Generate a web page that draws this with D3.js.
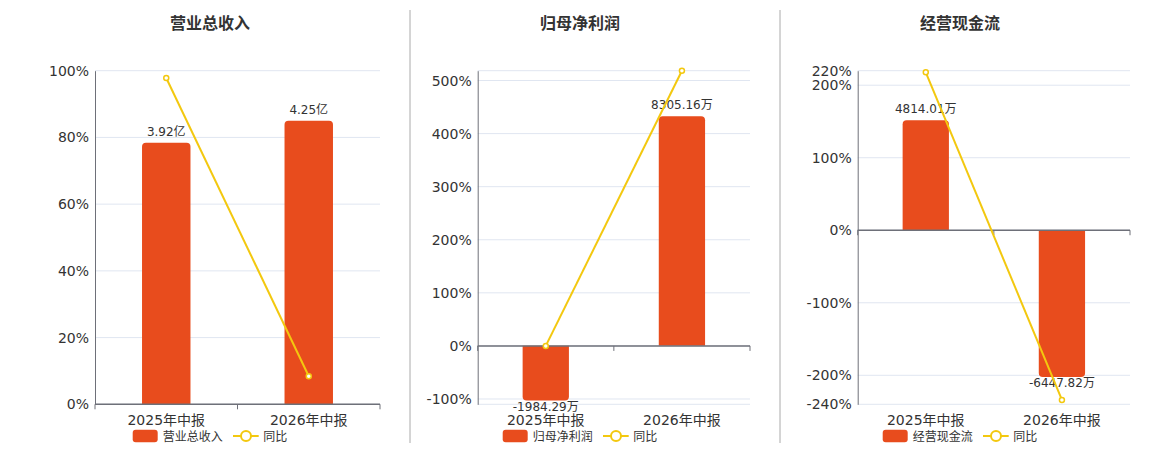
<!DOCTYPE html>
<html>
<head>
<meta charset="utf-8">
<script src="https://cdn.jsdelivr.net/npm/d3@7"></script>
<style>
    body { margin: 0; background: #fff; }
    svg { display: block; font-family: "DejaVu Sans", "Noto Sans CJK SC", sans-serif; }
</style>
</head>
<body>
<div id="graf"></div>
<script>
// Datos
const categorias = ["2025年中报", "2026年中报"];
const titulos = ["营业总收入", "归母净利润", "经营现金流"];
const unidades = ["亿", "万", "万"];

const ingresos = [3.92, 4.25];
const ingresosYoy = [97.8, 8.42];
const utilidad = [-1984.29, 8305.16];
const utilidadYoy = [0, 518.5];
const flujo = [4814.01, -6447.82];
const flujoYoy = [217.7, -233.9];

const ticksIngresos = [0, 20, 40, 60, 80, 100];
const ticksUtilidad = [-100, 0, 100, 200, 300, 400, 500];
const ticksFlujo = [-240, -200, -100, 0, 100, 200, 220];

// Configuración de cada panel
const paneles = [
    { barras: ingresos, yoy: ingresosYoy, ticks: ticksIngresos, pct: [0, 100], dom: [0, 5], left: 95, width: 285, center: 210 },
    { barras: utilidad, yoy: utilidadYoy, ticks: ticksUtilidad, pct: [-110, 518.5], dom: [-2120, 9950], left: 477.7, width: 272.3, center: 580 },
    { barras: flujo, yoy: flujoYoy, ticks: ticksFlujo, pct: [-240, 220], dom: [-7645, 6987], left: 857.7, width: 272.3, center: 960 },
];

const anchoTotal = 1160, altoTotal = 450;
const plotTop = 70.7, plotBottom = 404.3;
const rojo = "#e84c1d", amarillo = "#f3c80f", gris = "#6e7079", rejilla = "#e0e6f1", texto = "#333";

const svg = d3.select("#graf").append("svg").attr("width", anchoTotal).attr("height", altoTotal);

// separadores
[410, 780].forEach((x) => {
    svg.append("line").attr("x1", x).attr("x2", x).attr("y1", 10).attr("y2", 443)
        .attr("stroke", "#aaa").attr("stroke-width", 1);
});

function barPath(x0, w, yBase, yEnd, r) {
    const p = d3.path();
    const dir = yEnd < yBase ? 1 : -1; // 1 = hacia arriba
    r = Math.min(r, Math.abs(yBase - yEnd), w / 2);
    p.moveTo(x0, yBase);
    p.lineTo(x0, yEnd + dir * r);
    p.quadraticCurveTo(x0, yEnd, x0 + r, yEnd);
    p.lineTo(x0 + w - r, yEnd);
    p.quadraticCurveTo(x0 + w, yEnd, x0 + w, yEnd + dir * r);
    p.lineTo(x0 + w, yBase);
    p.closePath();
    return p.toString();
}

paneles.forEach((cfg, i) => {
    const g = svg.append("g");

    // Escaladores
    const x = d3.scaleBand().domain(categorias).range([cfg.left, cfg.left + cfg.width]);
    const yPct = d3.scaleLinear().domain(cfg.pct).range([plotBottom, plotTop]);
    const yBar = d3.scaleLinear().domain(cfg.dom).range([plotBottom, plotTop]);
    const centro = (d) => x(d) + x.bandwidth() / 2;

    // Titulo
    g.append("text").attr("x", cfg.center).attr("y", 29).attr("text-anchor", "middle")
        .attr("font-size", 16).attr("font-weight", "bold").attr("fill", texto).text(titulos[i]);

    // Rejilla
    const lineas = Array.from(new Set([...cfg.ticks, ...cfg.pct]));
    g.append("g").selectAll("line").data(lineas).join("line")
        .attr("x1", cfg.left).attr("x2", cfg.left + cfg.width)
        .attr("y1", (d) => yPct(d)).attr("y2", (d) => yPct(d))
        .attr("stroke", rejilla).attr("stroke-width", 1);

    // Eje Y
    const yAxis = d3.axisLeft(yPct).tickValues(cfg.ticks).tickSize(0).tickPadding(6).tickFormat((d) => d + "%");
    const yg = g.append("g").attr("transform", `translate(${cfg.left},0)`).call(yAxis);
    yg.select(".domain").attr("stroke", gris);
    yg.selectAll("text").attr("font-size", 14).attr("fill", texto)
        .attr("font-family", "DejaVu Sans, Noto Sans CJK SC, sans-serif");

    // Barras
    const w = x.bandwidth() * 0.34;
    const y0 = yBar(0);
    g.append("g").selectAll("path").data(cfg.barras).join("path")
        .attr("d", (d, j) => barPath(centro(categorias[j]) - w / 2, w, y0, yBar(d), 4))
        .attr("fill", rojo);

    // Etiquetas de barras
    g.append("g").selectAll("text").data(cfg.barras).join("text")
        .attr("x", (d, j) => centro(categorias[j]))
        .attr("y", (d) => (d >= 0 ? yBar(d) - 7 : yBar(d) + 10))
        .attr("text-anchor", "middle").attr("font-size", 12).attr("fill", texto)
        .text((d) => d + unidades[i]);

    // Eje X en cero
    const zero = yPct(0);
    g.append("line").attr("x1", cfg.left).attr("x2", cfg.left + cfg.width)
        .attr("y1", zero).attr("y2", zero).attr("stroke", gris).attr("stroke-width", 1.5);
    const limites = [...categorias.map((c) => x(c)), cfg.left + cfg.width];
    g.append("g").selectAll("line").data(limites).join("line")
        .attr("x1", (d) => d).attr("x2", (d) => d).attr("y1", zero).attr("y2", zero + 5)
        .attr("stroke", gris);
    g.append("g").selectAll("text").data(categorias).join("text")
        .attr("x", (d) => centro(d)).attr("y", 425).attr("text-anchor", "middle")
        .attr("font-size", 14).attr("fill", texto).text((d) => d);

    // Linea de variación
    const line = d3.line().x((d, j) => centro(categorias[j])).y((d) => yPct(d));
    g.append("path").datum(cfg.yoy).attr("d", line).attr("fill", "none")
        .attr("stroke", amarillo).attr("stroke-width", 2);
    g.append("g").selectAll("circle").data(cfg.yoy).join("circle")
        .attr("cx", (d, j) => centro(categorias[j])).attr("cy", (d) => yPct(d)).attr("r", 2.5)
        .attr("fill", "#fff").attr("stroke", amarillo).attr("stroke-width", 1.5);

    // Leyenda
    const lx = cfg.center - 77.3;
    const leg = g.append("g").attr("transform", `translate(${lx},436)`);
    leg.append("rect").attr("x", 0).attr("y", -6.2).attr("width", 25).attr("height", 12.4).attr("rx", 3)
        .attr("fill", rojo);
    leg.append("text").attr("x", 30).attr("y", 4.5).attr("font-size", 12).attr("fill", texto).text(titulos[i]);
    leg.append("line").attr("x1", 100.3).attr("x2", 126).attr("y1", 0).attr("y2", 0)
        .attr("stroke", amarillo).attr("stroke-width", 2);
    leg.append("circle").attr("cx", 113.3).attr("cy", 0).attr("r", 5)
        .attr("fill", "#fff").attr("stroke", amarillo).attr("stroke-width", 2);
    leg.append("text").attr("x", 130.6).attr("y", 4.5).attr("font-size", 12).attr("fill", texto).text("同比");
});
</script>
</body>
</html>
